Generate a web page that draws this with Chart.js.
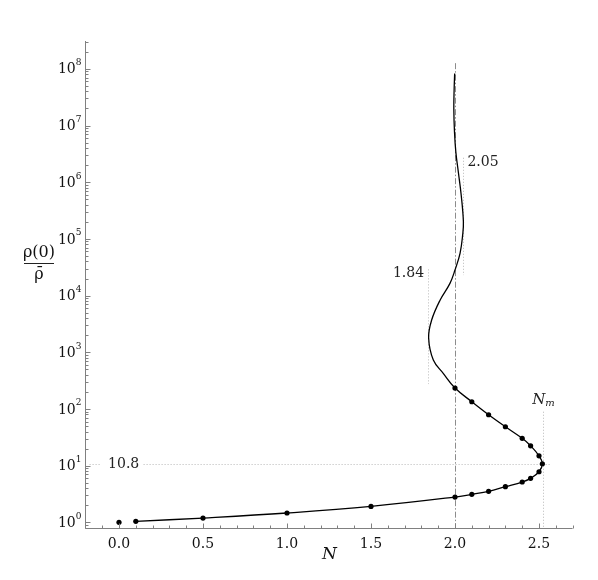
<!DOCTYPE html>
<html>
<head>
<meta charset="utf-8">
<script src="https://cdn.jsdelivr.net/npm/chart.js@4/dist/chart.umd.min.js"></script>
<style>
  body { margin: 0; background: #fff; }
  #wrap { width: 598px; height: 580px; position: relative; }
</style>
</head>
<body>
<div id="wrap"><canvas id="chart"></canvas></div>
<script>
// isolated starting point
const startN = [0];
const startRho = [1];

// dotted points along the lower and upper branch
const branchN   = [0.1, 0.5, 1.0, 1.5, 2.0, 2.1, 2.2, 2.3, 2.4, 2.45, 2.5, 2.52, 2.5, 2.45, 2.4, 2.3, 2.2, 2.1, 2.0];
const branchRho = [1.04, 1.19, 1.46, 1.91, 2.79, 3.12, 3.52, 4.25, 5.14, 5.97, 7.8, 10.8, 14.9, 22.4, 30.3, 48.5, 79, 134, 234];

// the spiral part (line only, no dots)
const spiralN   = [1.93, 1.871, 1.843, 1.861, 1.911, 1.97, 2.0, 2.03, 2.046, 2.05, 2.037, 2.02, 2.005, 1.997, 1.993, 1.995, 1.998];
const spiralRho = [425, 728, 1800, 3700, 8300, 16400, 28200, 55500, 120000, 200000, 590000, 1.5e6, 3.4e6, 7.7e6, 2.0e7, 4.5e7, 8.3e7];

const xTicks = [0, 0.5, 1.0, 1.5, 2.0, 2.5];
const yTickExps = [0, 1, 2, 3, 4, 5, 6, 7, 8];

// marked values
const nLimit = 2.0;
const nLow = 1.84, nLowRange = [275, 2.9e4];
const nHigh = 2.05, nHighRange = [2.3e4, 2.7e6];
const nMax = 2.526, rhoMax = 10.8;

const toPts = (xs, ys) => xs.map((v, i) => ({x: v, y: ys[i]}));

const serif = '"DejaVu Serif", "Liberation Serif", serif';

const axesPlugin = {
  id: 'axesPlugin',
  beforeDatasetsDraw(chart) {
    const {ctx, chartArea: a, scales: {x, y}} = chart;
    ctx.save();
    ctx.lineWidth = 1;

    // dash-dot line at N = 2
    ctx.strokeStyle = '#8c8c8c';
    ctx.setLineDash([6, 2, 1.5, 2]);
    ctx.beginPath();
    ctx.moveTo(Math.round(x.getPixelForValue(nLimit)) + 0.5, y.getPixelForValue(1.26e8));
    ctx.lineTo(Math.round(x.getPixelForValue(nLimit)) + 0.5, a.bottom);
    ctx.stroke();

    // dotted guide lines
    ctx.strokeStyle = '#b8b8b8';
    ctx.setLineDash([1, 2]);
    const vline = (n, y0, y1) => {
      const px = Math.round(x.getPixelForValue(n)) + 0.5;
      ctx.beginPath();
      ctx.moveTo(px, y0);
      ctx.lineTo(px, y1);
      ctx.stroke();
    };
    vline(nLow, y.getPixelForValue(nLowRange[1]), y.getPixelForValue(nLowRange[0]));
    vline(nHigh, y.getPixelForValue(nHighRange[1]), y.getPixelForValue(nHighRange[0]));
    vline(nMax, y.getPixelForValue(rhoMax) - 52, a.bottom);

    const py = Math.round(y.getPixelForValue(rhoMax)) + 0.5;
    ctx.beginPath();
    ctx.moveTo(x.getPixelForValue(-0.175), py);
    ctx.lineTo(x.getPixelForValue(2.575), py);
    ctx.stroke();
    ctx.setLineDash([]);

    // labels for the guide lines
    ctx.font = '14px ' + serif;
    ctx.textBaseline = 'middle';
    ctx.fillStyle = '#fff';
    ctx.fillRect(x.getPixelForValue(-0.11), py - 6, 42, 12);
    ctx.fillStyle = '#222';
    ctx.textAlign = 'left';
    ctx.fillText('10.8', x.getPixelForValue(-0.065), py);
    ctx.textAlign = 'right';
    ctx.fillText('1.84', x.getPixelForValue(nLow) - 4, y.getPixelForValue(nLowRange[1]) + 4);
    ctx.textAlign = 'left';
    ctx.fillText('2.05', x.getPixelForValue(nHigh) + 4, y.getPixelForValue(nHighRange[1]) + 5);

    // N_m label
    const mx = x.getPixelForValue(nMax);
    const my = y.getPixelForValue(rhoMax) - 64;
    ctx.font = 'italic 15px ' + serif;
    ctx.textAlign = 'right';
    ctx.fillText('N', mx + 2, my);
    ctx.font = 'italic 10px ' + serif;
    ctx.textAlign = 'left';
    ctx.fillText('m', mx + 2, my + 4);
    ctx.restore();
  },
  afterDraw(chart) {
    const {ctx, chartArea: a, scales: {x, y}} = chart;
    ctx.save();
    ctx.strokeStyle = '#808080';
    ctx.lineWidth = 1;
    const left = Math.round(a.left) + 0.5;
    const bottom = Math.round(a.bottom) + 0.5;

    // axis lines
    ctx.beginPath();
    ctx.moveTo(left, a.top);
    ctx.lineTo(left, bottom);
    ctx.lineTo(a.right, bottom);
    ctx.stroke();

    // x ticks, every 0.1, major every 0.5
    ctx.beginPath();
    for (let k = -2; k <= 27; k++) {
      const v = k / 10;
      const px = Math.round(x.getPixelForValue(v)) + 0.5;
      const len = (k % 5 === 0) ? 5 : 3;
      ctx.moveTo(px, bottom);
      ctx.lineTo(px, bottom - len);
    }
    // y ticks, log decades with minor ticks
    for (let e = -1; e <= 8; e++) {
      for (let m = 1; m <= 9; m++) {
        const v = m * Math.pow(10, e);
        if (v < y.min || v > y.max) continue;
        const py = Math.round(y.getPixelForValue(v)) + 0.5;
        const len = (m === 1) ? 5 : 3;
        ctx.moveTo(left, py);
        ctx.lineTo(left + len, py);
      }
    }
    ctx.stroke();

    // tick labels
    ctx.fillStyle = '#111';
    ctx.font = '14px ' + serif;
    ctx.textBaseline = 'top';
    ctx.textAlign = 'center';
    xTicks.forEach(v => {
      ctx.fillText(v.toFixed(1), x.getPixelForValue(v), bottom + 9);
    });

    ctx.textBaseline = 'middle';
    yTickExps.forEach(e => {
      const py = y.getPixelForValue(Math.pow(10, e));
      ctx.font = '9px ' + serif;
      const ew = ctx.measureText(String(e)).width;
      ctx.textAlign = 'left';
      ctx.fillText(String(e), left - 4 - ew, py - 6);
      ctx.font = '14px ' + serif;
      ctx.textAlign = 'right';
      ctx.fillText('10', left - 4 - ew, py + 1);
    });

    // axis titles
    ctx.font = 'italic 17px ' + serif;
    ctx.textAlign = 'center';
    ctx.fillText('N', (a.left + a.right) / 2 + 0.5, 555);

    ctx.font = '16px ' + serif;
    ctx.fillText('\u03C1(0)', 39, 253);
    ctx.fillText('\u03C1\u0304', 39, 275);
    ctx.strokeStyle = '#222';
    ctx.beginPath();
    ctx.moveTo(24, 263.5);
    ctx.lineTo(54, 263.5);
    ctx.stroke();
    ctx.restore();
  }
};

new Chart(document.getElementById('chart'), {
  type: 'scatter',
  data: {
    datasets: [
      {
        label: 'curve',
        data: toPts(branchN.concat(spiralN), branchRho.concat(spiralRho)),
        showLine: true,
        borderColor: '#000',
        borderWidth: 1.3,
        pointRadius: 0,
        tension: 0.4
      },
      {
        label: 'points',
        data: toPts(startN.concat(branchN), startRho.concat(branchRho)),
        showLine: false,
        pointRadius: 2.6,
        pointBackgroundColor: '#000',
        pointBorderWidth: 0
      }
    ]
  },
  options: {
    responsive: true,
    maintainAspectRatio: false,
    animation: false,
    layout: { padding: { left: 85.4, right: 25.4, top: 41, bottom: 52 } },
    plugins: { legend: { display: false }, tooltip: { enabled: false } },
    scales: {
      x: { type: 'linear', min: -0.2, max: 2.7, display: false },
      y: { type: 'logarithmic', min: 0.794, max: 3.1e8, display: false }
    }
  },
  plugins: [axesPlugin]
});
</script>
</body>
</html>
